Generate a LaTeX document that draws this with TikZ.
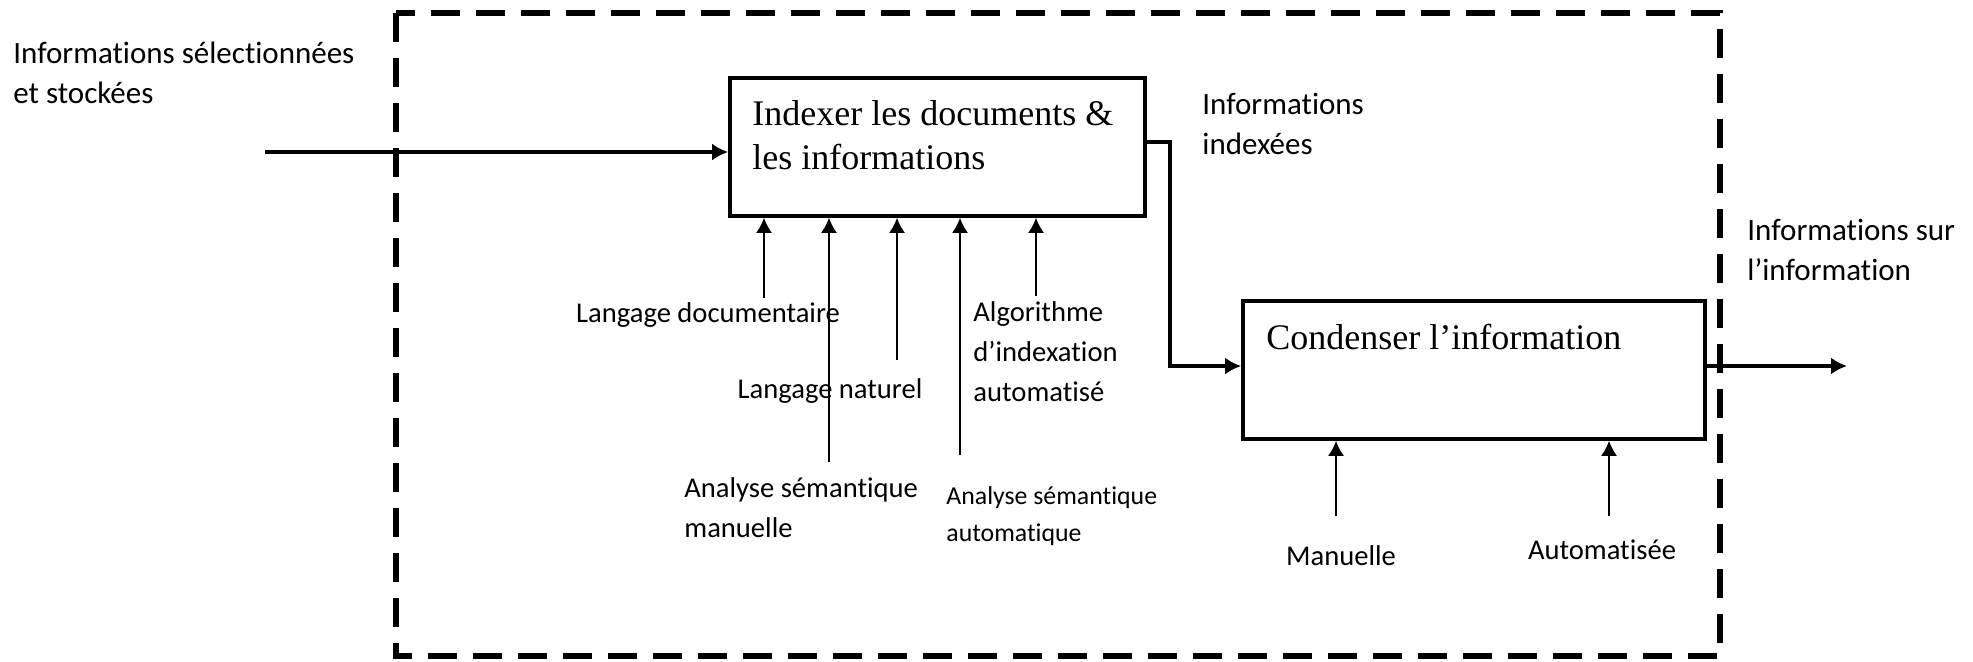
\documentclass[tikz,border=0pt]{standalone}
\usepackage{fontspec}
\setmainfont{Carlito}[Ligatures=NoCommon]
\newfontfamily\boitefont{Liberation Serif}
\usetikzlibrary{arrows.meta}

\begin{document}
\begin{tikzpicture}[x=0.5pt,y=-0.5pt,
    etiq/.style={font=\fontsize{15.5}{20}\selectfont, align=left, inner sep=0pt},
    ctrletiq/.style={font=\fontsize{14.3}{20}\selectfont, align=left, inner sep=0pt},
    petit/.style={font=\fontsize{12.9}{18.5}\selectfont, align=left, inner sep=0pt},
    activite/.style={draw, line width=1.8pt, minimum width=207.5pt, minimum height=69pt, inner sep=0pt},
    titre/.style={font=\boitefont\fontsize{18}{22}\selectfont, align=left, inner sep=0pt, anchor=west},
    flux/.style={line width=1.7pt, -{Latex[length=8pt,width=8.5pt]}},
    ctrl/.style={line width=0.9pt, -{Latex[length=7.5pt,width=8pt]}}]

\useasboundingbox (0,0) rectangle (1973,661);

% frontiere du systeme
\draw[line width=3pt, dash pattern=on 14.5pt off 8pt] (396,13) rectangle (1720,656);

% activites
\node[activite] (idx) at (937.5,147) {};
\node[titre] (idxtitre) at (752,135) {Indexer les documents \&\\les informations};
\node[activite, minimum width=231pt] (cond) at (1474,370) {};
\node[titre] (condtitre) at (1266,337) {Condenser l’information};

% textes
\node[etiq, anchor=west] (infsel) at (13,73) {Informations sélectionnées\\et stockées};
\node[etiq, anchor=west] (infidx) at (1202,124) {Informations\\indexées};
\node[etiq, anchor=west] (infsur) at (1747,250) {Informations sur\\l’information};
\node[ctrletiq] (langdoc) at (708,315) {Langage documentaire};
\node[ctrletiq] (langnat) at (830,391) {Langage naturel};
\node[ctrletiq, anchor=west] (asman) at (684,508) {Analyse sémantique\\manuelle};
\node[petit, anchor=west] (asauto) at (946,516) {Analyse sémantique\\automatique};
\node[ctrletiq, anchor=west] (algo) at (973,352) {Algorithme\\d’indexation\\automatisé};
\node[ctrletiq] (man) at (1341,556) {Manuelle};
\node[ctrletiq] (auto) at (1602,550) {Automatisée};

% flux
\coordinate (entree) at (265,152);
\coordinate (sortie) at (1847,366);
\draw[flux] (entree) -- (entree -| idx.west);
\draw[flux] ([yshift=2.5pt]idx.east) -- ++(23,0) |- ([yshift=2pt]cond.west);
\draw[flux] ([yshift=2pt]cond.east) -- (sortie);

% controles
\coordinate (c1) at (764,298);
\coordinate (c2) at (829,462);
\coordinate (c3) at (897,360);
\coordinate (c4) at (960,455);
\coordinate (c5) at (1036,296);
\draw[ctrl] (c1) -- (c1 |- idx.south);
\draw[ctrl] (c2) -- (c2 |- idx.south);
\draw[ctrl] (c3) -- (c3 |- idx.south);
\draw[ctrl] (c4) -- (c4 |- idx.south);
\draw[ctrl] (c5) -- (c5 |- idx.south);
\coordinate (d1) at (1336,516);
\coordinate (d2) at (1609,516);
\draw[ctrl] (d1) -- (d1 |- cond.south);
\draw[ctrl] (d2) -- (d2 |- cond.south);
\end{tikzpicture}
\end{document}
